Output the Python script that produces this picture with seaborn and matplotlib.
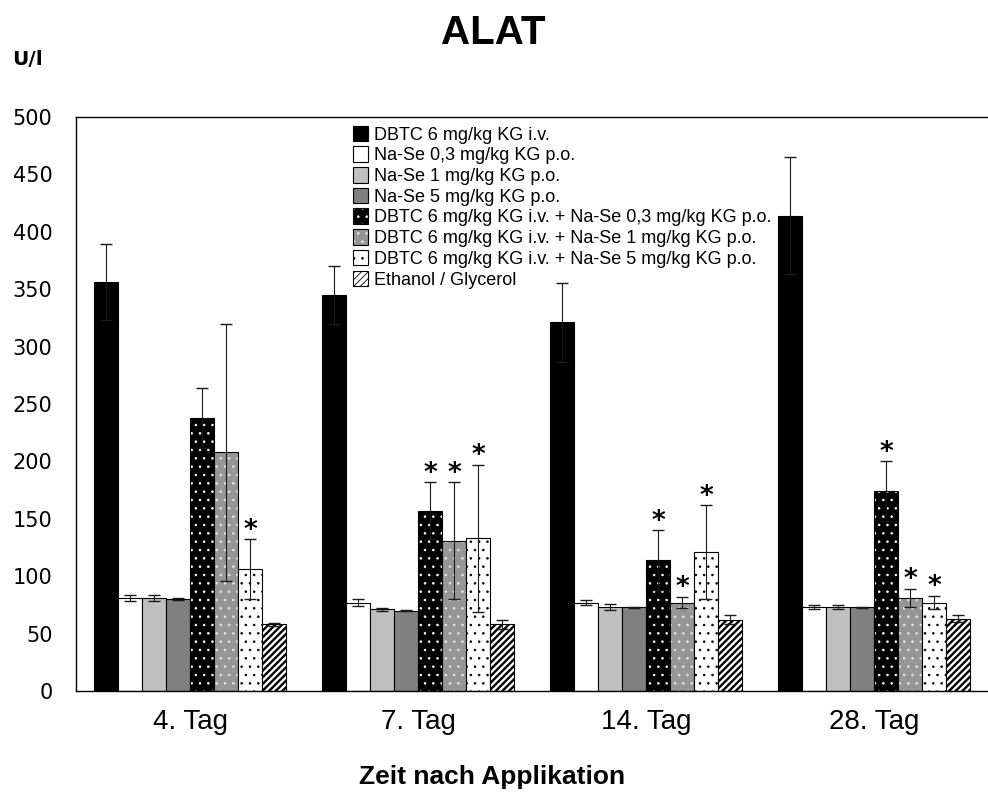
import numpy as np
import pandas as pd
import matplotlib
matplotlib.use("Agg")
import matplotlib.pyplot as plt
import seaborn as sns
from matplotlib.colors import to_rgba

# ---------------- data ----------------
tage = ["4. Tag", "7. Tag", "14. Tag", "28. Tag"]
gruppen = [
    "DBTC 6 mg/kg KG i.v.",
    "Na-Se 0,3 mg/kg KG p.o.",
    "Na-Se 1 mg/kg KG p.o.",
    "Na-Se 5 mg/kg KG p.o.",
    "DBTC 6 mg/kg KG i.v. + Na-Se 0,3 mg/kg KG p.o.",
    "DBTC 6 mg/kg KG i.v. + Na-Se 1 mg/kg KG p.o.",
    "DBTC 6 mg/kg KG i.v. + Na-Se 5 mg/kg KG p.o.",
    "Ethanol / Glycerol",
]
# mean values per group (rows) and day (columns)
dbtc          = [356, 345, 321, 414]
nase_03       = [81, 77, 77, 73]
nase_1        = [81, 71, 73, 73]
nase_5        = [80, 70, 73, 73]
dbtc_nase_03  = [238, 157, 114, 174]
dbtc_nase_1   = [208, 131, 77, 81]
dbtc_nase_5   = [106, 133, 121, 77]
ethanol       = [58, 58, 62, 63]
# standard deviations
sd_dbtc          = [33, 25, 34, 51]
sd_nase_03       = [2.5, 3, 2, 1.5]
sd_nase_1        = [2.5, 1.5, 2.5, 1.5]
sd_nase_5        = [1, 0.5, 0.5, 0.3]
sd_dbtc_nase_03  = [26, 25, 26, 26]
sd_dbtc_nase_1   = [112, 51, 5, 8]
sd_dbtc_nase_5   = [26, 64, 41, 6]
sd_ethanol       = [1, 4, 4, 3]
# significance markers (1 = asterisk)
sig_dbtc_nase_03 = [0, 1, 1, 1]
sig_dbtc_nase_1  = [0, 1, 1, 1]
sig_dbtc_nase_5  = [1, 1, 1, 1]

means = [dbtc, nase_03, nase_1, nase_5, dbtc_nase_03, dbtc_nase_1, dbtc_nase_5, ethanol]
sds = [sd_dbtc, sd_nase_03, sd_nase_1, sd_nase_5, sd_dbtc_nase_03, sd_dbtc_nase_1,
       sd_dbtc_nase_5, sd_ethanol]
sigs = [[0] * 4, [0] * 4, [0] * 4, [0] * 4, sig_dbtc_nase_03, sig_dbtc_nase_1,
        sig_dbtc_nase_5, [0] * 4]

rows = []
for g, vals in zip(gruppen, means):
    for t, v in zip(tage, vals):
        rows.append({"Tag": t, "Gruppe": g, "U/l": v})
df = pd.DataFrame(rows)

# ---------------- style ----------------
sns.set_theme(style="white")
plt.rcParams["font.family"] = ["Liberation Sans", "DejaVu Sans"]
plt.rcParams["text.color"] = "black"
plt.rcParams["axes.labelcolor"] = "black"
plt.rcParams["xtick.color"] = "black"
plt.rcParams["ytick.color"] = "black"
plt.rcParams["hatch.linewidth"] = 0.6

face = ["#000000", "#ffffff", "#c0c0c0", "#808080", "#000000", "#969696", "#ffffff", "#ffffff"]
hatches = [None, None, None, None, "..", "..", "..", "/////"]
hatch_col = [None, None, None, None, "#ffffff", "#e8e8e8", "#000000", "#000000"]
hatch_lw = [0, 0, 0, 0, 0.6, 0.6, 0.6, 1.7]

fig = plt.figure(figsize=(9.88, 7.92), dpi=100)
ax = fig.add_axes([76 / 988, 101 / 792, 1 - 76 / 988, 574 / 792])

sns.barplot(data=df, x="Tag", y="U/l", hue="Gruppe", order=tage, hue_order=gruppen,
            palette=face, width=0.845, saturation=1, errorbar=None,
            edgecolor="black", linewidth=0.8, legend=False, ax=ax)

bar_conts = list(ax.containers)
for i, cont in enumerate(bar_conts):
    for j, bar in enumerate(cont):
        bar.set_edgecolor("black")
        bar.set_linewidth(0.8)
        if hatches[i]:
            bar.set_hatch(hatches[i])
            bar._hatch_color = to_rgba(hatch_col[i])
            if hasattr(bar, "_hatch_linewidth"):
                bar._hatch_linewidth = hatch_lw[i]
        x = bar.get_x() + bar.get_width() / 2
        y = bar.get_height()
        e = sds[i][j]
        ax.errorbar([x], [y], yerr=[e], fmt="none", ecolor="#1a1a1a",
                    elinewidth=0.8, capsize=4.5, capthick=1.0, zorder=5)
        if sigs[i][j]:
            ax.annotate("*", xy=(x, y + e), xytext=(0, 1), textcoords="offset points",
                        ha="center", va="baseline", fontsize=19, fontweight="bold",
                        family=["DejaVu Sans"], color="black", zorder=6)

# axes
ax.set_ylim(0, 500)
ax.set_yticks(np.arange(0, 501, 50))
ax.set_xlim(-0.5, 3.443)
ax.set_xticks(range(len(tage)))
ax.set_xticklabels(tage, fontsize=20)
ax.set_xticks([-0.5, 0.5, 1.5, 2.5, 3.5], minor=True)
ax.tick_params(axis="x", which="major", length=0, pad=13)
ax.tick_params(axis="x", which="minor", length=6, width=1, direction="out", color="black")
ax.tick_params(axis="y", length=6, width=1, direction="out", color="black", pad=11)
for lab in ax.get_yticklabels():
    lab.set_fontsize(15)
    lab.set_family(["DejaVu Sans"])
ax.set_xlabel("")
ax.set_ylabel("")
for s in ["left", "bottom", "top"]:
    ax.spines[s].set_visible(True)
    ax.spines[s].set_color("black")
    ax.spines[s].set_linewidth(1.0)
ax.spines["right"].set_visible(False)
ax.grid(False)

# legend
handles = [cont[0] for cont in bar_conts]
leg = ax.legend(handles, gruppen, loc="upper left", bbox_to_anchor=((353 - 76) / 912, 0.985),
                frameon=False, fontsize=13, handlelength=0.85, handleheight=0.95,
                handletextpad=0.3, labelspacing=0.15, borderpad=0, borderaxespad=0)

# titles
fig.text(493 / 988, 1 - 44 / 792, "ALAT", ha="center", va="baseline",
         fontsize=29, fontweight="bold")
fig.text(12 / 988, 1 - 65 / 792, "U/l", ha="left", va="baseline",
         fontsize=14.5, fontweight="bold", family=["DejaVu Sans"])
fig.text(492 / 988, 1 - 784 / 792, "Zeit nach Applikation", ha="center", va="baseline",
         fontsize=19, fontweight="bold")

fig.savefig("out.png", dpi=100)
